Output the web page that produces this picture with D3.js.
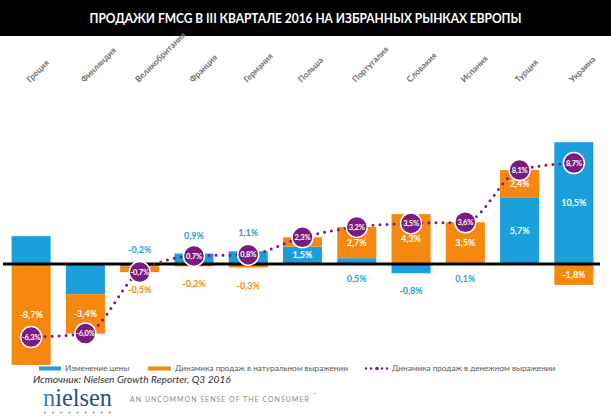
<!DOCTYPE html>
<html>
<head>
<meta charset="utf-8">
<script src="https://cdn.jsdelivr.net/npm/d3@7"></script>
<style>
  html, body { margin: 0; padding: 0; background: #fff; }
  svg { display: block; }
</style>
</head>
<body>
<svg id="chart" width="611" height="417"></svg>
<script>
// ---- data ----
const categories = ["Греция","Финляндия","Великобритания","Франция","Германия","Польша","Португалия","Словакия","Испания","Турция","Украина"];
const priceChange  = [2.4, -2.6, -0.2, 0.9, 1.1, 1.5, 0.5, -0.8, 0.1, 5.7, 10.5];
const volumeChange = [-8.7, -3.4, -0.5, -0.2, -0.3, 0.8, 2.7, 4.3, 3.5, 2.4, -1.8];
const valueChange  = [-6.3, -6.0, -0.7, 0.7, 0.8, 2.3, 3.2, 3.5, 3.6, 8.1, 8.7];
const hiddenPriceLabels = ["Греция","Финляндия"];
const seriesNames = ["Изменение цены","Динамика продаж в натуральном выражении","Динамика продаж в денежном выражении"];
const titleText = "ПРОДАЖИ FMCG В III КВАРТАЛЕ 2016 НА ИЗБРАННЫХ РЫНКАХ ЕВРОПЫ";
const sourceText = "Источник: Nielsen Growth Reporter, Q3 2016";

// ---- setup ----
const W = 611, H = 417;
const BLUE = "#1a9fdb", ORANGE = "#f7880f", PURPLE = "#7a1b7f";
const svg = d3.select("#chart");
const fontMain = "Lato, 'Open Sans', 'Liberation Sans', sans-serif";

const rows = categories.map((c, i) => ({cat: c, price: priceChange[i], volume: volumeChange[i], value: valueChange[i]}));

const x = d3.scaleBand().domain(categories).range([4, 601]).paddingInner(0.28).paddingOuter(0.14);
const y = d3.scaleLinear().domain([-10, 12]).range([380, 124.8]);

// title bar
svg.append("rect").attr("x", 0).attr("y", 0).attr("width", W).attr("height", 36).attr("fill", "#000");
svg.append("text").attr("x", W / 2).attr("y", 18.5).attr("text-anchor", "middle").attr("dy", "0.35em")
  .attr("fill", "#fff").attr("font-family", "'Liberation Sans Narrow','Arial Narrow'," + fontMain)
  .attr("font-weight", "bold").attr("font-size", 14)
  .attr("textLength", 432).attr("lengthAdjust", "spacingAndGlyphs")
  .text(titleText);

// category labels (rotated)
svg.append("g").selectAll("text").data(categories).join("text")
  .attr("transform", d => `translate(${x(d) + x.bandwidth() / 2 - 1},83) rotate(-45)`)
  .attr("fill", "#737373").attr("font-family", fontMain).attr("font-weight", "bold").attr("font-size", 8.5)
  .text(d => d);

// stacked bars
const keys = ["price", "volume"];
const colors = {price: BLUE, volume: ORANGE};
const stack = d3.stack().keys(keys).offset(d3.stackOffsetDiverging)(rows);

const gBars = svg.append("g");
stack.forEach(s => {
  gBars.selectAll(null).data(s).join("rect")
    .attr("x", d => x(d.data.cat))
    .attr("width", x.bandwidth())
    .attr("y", d => y(Math.max(d[0], d[1])))
    .attr("height", d => Math.abs(y(d[0]) - y(d[1])))
    .attr("fill", colors[s.key]);
});

// zero line
svg.append("line").attr("x1", 3).attr("x2", 600).attr("y1", y(0)).attr("y2", y(0))
  .attr("stroke", "#000").attr("stroke-width", 3);

// segment labels
const fmt = v => (v < 0 ? "-" : "") + Math.abs(v).toFixed(1).replace(".", ",") + "%";
const insideThreshold = {price: 1.2, volume: 0.7};
const gLab = svg.append("g").attr("font-family", fontMain).attr("font-weight", "bold").attr("font-size", 9)
  .attr("text-anchor", "middle");
stack.forEach(s => {
  s.forEach(d => {
    const r = d.data, v = r[s.key];
    if (s.key === "price" && hiddenPriceLabels.includes(r.cat)) return;
    const cx = x(r.cat) + x.bandwidth() / 2;
    let cy, fill;
    if (Math.abs(v) >= insideThreshold[s.key]) {
      cy = y((d[0] + d[1]) / 2); fill = "#fff";
    } else {
      fill = colors[s.key];
      const end = v >= 0 ? Math.max(d[0], d[1]) : Math.min(d[0], d[1]);
      if (s.key === "price" && Math.sign(r.price) === Math.sign(r.volume)) {
        cy = v > 0 ? y(0) + 15 : y(0) - 14;
      } else {
        cy = v > 0 ? y(end) - 18 : y(end) + 18;
      }
    }
    gLab.append("text").attr("x", cx).attr("y", cy).attr("dy", "0.35em").attr("fill", fill).text(fmt(v));
  });
});

// dotted value line
const line = d3.line().x(d => x(d.cat) + x.bandwidth() / 2).y(d => y(d.value)).curve(d3.curveMonotoneX);
svg.append("path").datum(rows).attr("d", line).attr("fill", "none")
  .attr("stroke", PURPLE).attr("stroke-width", 3).attr("stroke-linecap", "round").attr("stroke-dasharray", "0 7");

// circles
const gC = svg.append("g");
gC.selectAll("circle").data(rows).join("circle")
  .attr("cx", d => x(d.cat) + x.bandwidth() / 2).attr("cy", d => y(d.value)).attr("r", 10.5)
  .attr("fill", PURPLE).attr("stroke", "#fff").attr("stroke-width", 1.5);
gC.selectAll("text").data(rows).join("text")
  .attr("x", d => x(d.cat) + x.bandwidth() / 2).attr("y", d => y(d.value)).attr("dy", "0.35em")
  .attr("text-anchor", "middle").attr("fill", "#fff").attr("font-family", fontMain)
  .attr("font-weight", "bold").attr("font-size", 7.5).attr("letter-spacing", -0.2)
  .text(d => fmt(d.value));

// legend
const lg = svg.append("g").attr("font-family", fontMain).attr("font-size", 8.2).attr("fill", "#595959");
lg.append("rect").attr("x", 39).attr("y", 366.5).attr("width", 22).attr("height", 4).attr("fill", BLUE);
lg.append("text").attr("x", 65).attr("y", 368.3).attr("dy", "0.35em").text(seriesNames[0]);
lg.append("rect").attr("x", 148).attr("y", 366.5).attr("width", 23).attr("height", 4).attr("fill", ORANGE);
lg.append("text").attr("x", 175).attr("y", 368.3).attr("dy", "0.35em").text(seriesNames[1]);
[366, 371, 377, 382, 387].forEach((px, i) => {
  lg.append("circle").attr("cx", px).attr("cy", 368.5).attr("r", i === 2 ? 1.8 : 1.2).attr("fill", PURPLE);
});
lg.append("text").attr("x", 392).attr("y", 368.3).attr("dy", "0.35em").text(seriesNames[2]);

// source
svg.append("text").attr("x", 33).attr("y", 379.5).attr("dy", "0.35em")
  .attr("font-family", fontMain).attr("font-style", "italic").attr("font-size", 10.2).attr("fill", "#333")
  .text(sourceText);

// nielsen logo
const logo = svg.append("g");
logo.append("text").attr("x", 43).attr("y", 406)
  .attr("font-family", "'Liberation Serif','DejaVu Serif',serif").attr("font-size", 25)
  .attr("textLength", 69).attr("lengthAdjust", "spacingAndGlyphs")
  .attr("fill", "#24599e")
  .selectAll("tspan").data(["n", "ielsen"]).join("tspan")
  .attr("fill", (d, i) => i === 0 ? "#3a7cc4" : "#234f8f").text(d => d);
d3.range(9).forEach(i => {
  logo.append("circle").attr("cx", 45 + i * 8.1).attr("cy", 412.5).attr("r", 0.9).attr("fill", "#8a8a8a");
});
logo.append("text").attr("x", 130).attr("y", 400).attr("dy", "0.35em")
  .attr("font-family", fontMain).attr("font-size", 7).attr("letter-spacing", 1).attr("fill", "#8c8c8c")
  .text("AN UNCOMMON SENSE OF THE CONSUMER");
logo.append("text").attr("x", 313).attr("y", 396).attr("font-family", fontMain).attr("font-size", 4)
  .attr("fill", "#8c8c8c").text("™");
</script>
</body>
</html>
